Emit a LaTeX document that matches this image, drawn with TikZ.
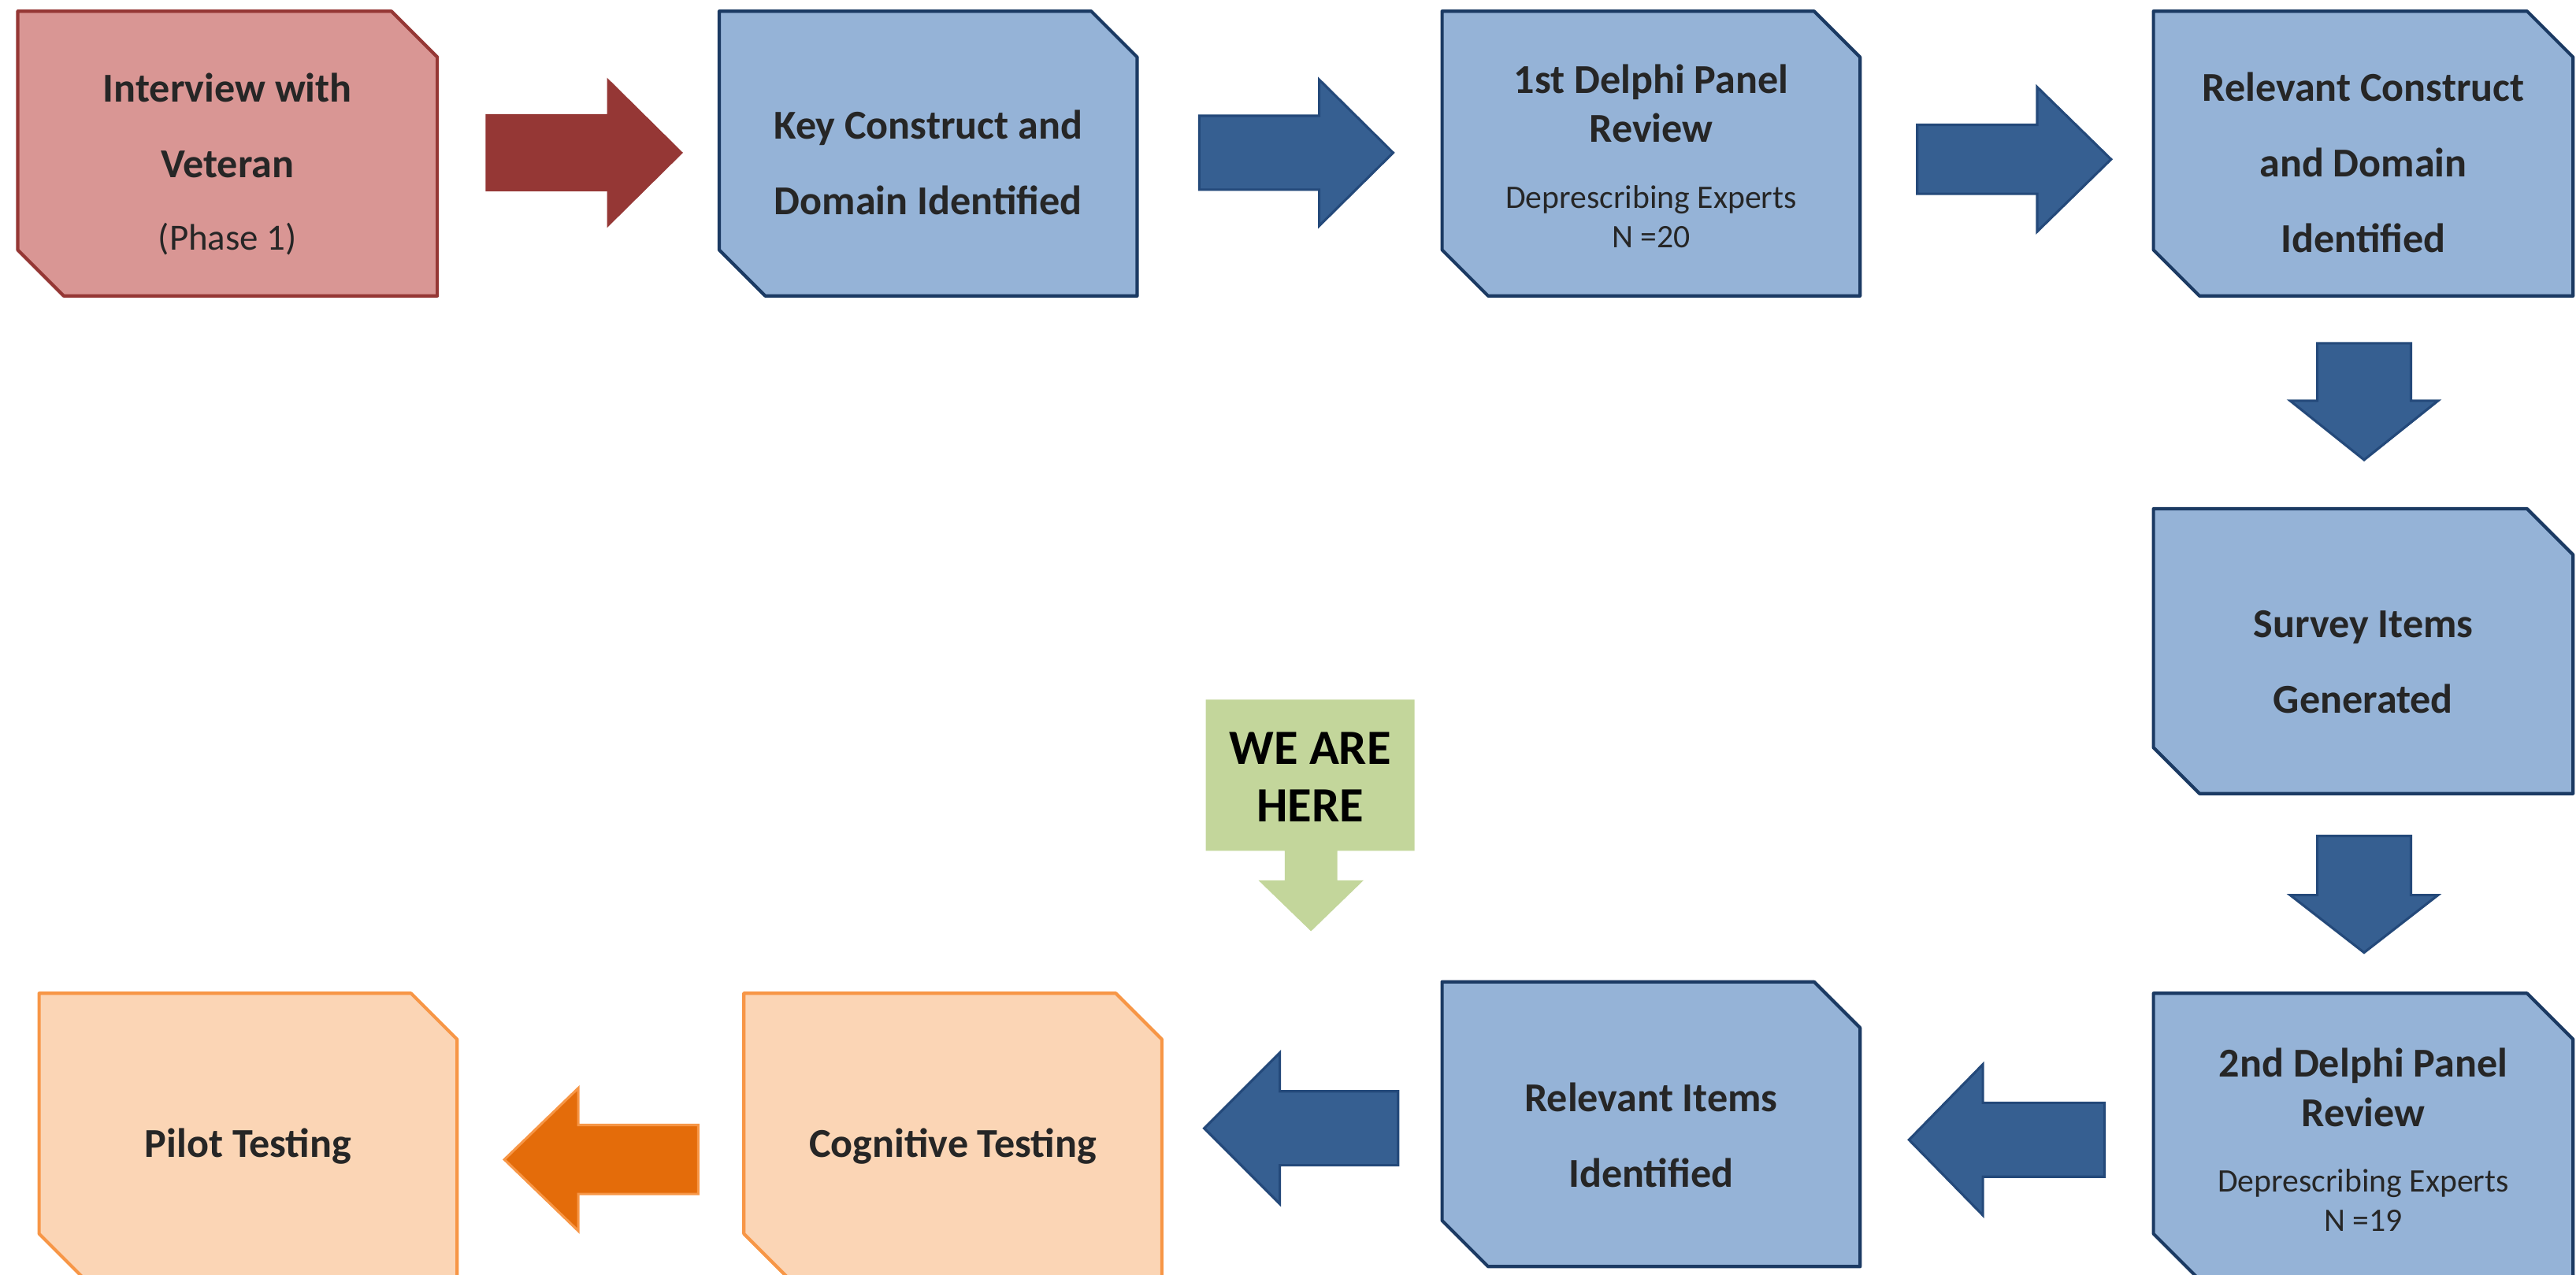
\documentclass[tikz,border=0pt]{standalone}
\usepackage{fontspec}
\setmainfont{Carlito}
\usetikzlibrary{backgrounds}
\definecolor{redfill}{HTML}{D99694}
\definecolor{redline}{HTML}{953735}
\definecolor{redarrow}{HTML}{953735}
\definecolor{bluefill}{HTML}{95B3D7}
\definecolor{blueline}{HTML}{1B3A63}
\definecolor{bluearrow}{HTML}{365F91}
\definecolor{bluearrowline}{HTML}{24497A}
\definecolor{orangefill}{HTML}{FBD5B5}
\definecolor{orangeline}{HTML}{F79646}
\definecolor{orangearrow}{HTML}{E46C0A}
\definecolor{greenfill}{HTML}{C3D69B}
\definecolor{txt}{HTML}{262626}
\newcommand\smalltxt{\mdseries\fontsize{20}{23}\selectfont}
\tikzset{
  boxnode/.style={rectangle, inner sep=0pt, minimum width=#1},
  boxnode/.default=255pt,
  ttl/.style={align=center, text=txt, inner sep=0pt, font=\bfseries\fontsize{25}{30}\selectfont},
  redbox/.style={fill=redfill, draw=redline, line width=2pt, line join=round},
  bluebox/.style={fill=bluefill, draw=blueline, line width=2pt, line join=round},
  orangebox/.style={fill=orangefill, draw=orangeline, line width=2pt, line join=round},
  redarr/.style={fill=redarrow, draw=redarrow, line width=1pt},
  bluearr/.style={fill=bluearrow, draw=bluearrowline, line width=1.5pt},
  orangearr/.style={fill=orangearrow, draw=orangeline, line width=1.5pt},
}
\newcommand\snipshape[2]{%
  \draw[#2] (#1.north west) -- ([xshift=-28pt]#1.north east) -- ([yshift=-28pt]#1.north east)
    -- (#1.south east) -- ([xshift=28pt]#1.south west) -- ([yshift=28pt]#1.south west) -- cycle;}
\newcommand\blockarrow[8]{%
  \coordinate (#2) at #3;
  \draw[#1, shift={(#2)}, rotate=#4] (0,0) -- (-#8,#7/2) -- (-#8,#6/2) -- (-#5,#6/2)
    -- (-#5,-#6/2) -- (-#8,-#6/2) -- (-#8,-#7/2) -- cycle;}
\begin{document}
\begin{tikzpicture}[x=1pt,y=-1pt]
\useasboundingbox (0,0) rectangle (1568,776);
% boxes
\node[boxnode, minimum height=173pt] (b1) at (138.5,93.5) {};
\node[boxnode=254pt, minimum height=173pt] (b2) at (565,93.5) {};
\node[boxnode=254pt, minimum height=173pt] (b3) at (1005,93.5) {};
\node[boxnode, minimum height=173pt] (b4) at (1438.5,93.5) {};
\node[boxnode, minimum height=173pt] (b5) at (1438.5,396.5) {};
\node[boxnode, minimum height=174pt] (b6) at (1438.5,692) {};
\node[boxnode=254pt, minimum height=173pt] (b7) at (1005,684.5) {};
\node[boxnode=254pt, minimum height=174pt] (b8) at (580,692) {};
\node[boxnode=254pt, minimum height=174pt] (b9) at (151,692) {};
\begin{scope}[on background layer]
\snipshape{b1}{redbox}
\snipshape{b2}{bluebox}
\snipshape{b3}{bluebox}
\snipshape{b4}{bluebox}
\snipshape{b5}{bluebox}
\snipshape{b6}{bluebox}
\snipshape{b7}{bluebox}
\snipshape{b8}{orangebox}
\snipshape{b9}{orangebox}
\end{scope}
% texts
\node[ttl] (t1) at (138.5,100) {Interview with\\[16pt]Veteran\\[14pt]\mdseries\fontsize{22.5}{30}\selectfont (Phase 1)};
\node[ttl] (t2) at (565,99) {Key Construct and\\[16pt]Domain Identified};
\node[ttl] (t3) at (1005,95) {1st Delphi Panel\\Review\\[10pt]\smalltxt Deprescribing Experts\\[-6pt]\smalltxt N =20};
\node[ttl] (t4) at (1438.5,99) {Relevant Construct\\[16pt]and Domain\\[16pt]Identified};
\node[ttl] (t5) at (1438.5,403) {Survey Items\\[16pt]Generated};
\node[ttl] (t6) at (1438.5,694) {2nd Delphi Panel\\Review\\[10pt]\smalltxt Deprescribing Experts\\[-6pt]\smalltxt N =19};
\node[ttl] (t7) at (1005,691) {Relevant Items\\[16pt]Identified};
\node[ttl] (t8) at (580,698) {Cognitive Testing};
\node[ttl] (t9) at (151,698) {Pilot Testing};
% block arrows
\blockarrow{redarr}{a1}{(415,93)}{0}{119}{46}{89}{45}
\blockarrow{bluearr}{a2}{(848,93)}{0}{118}{45}{89}{45}
\blockarrow{bluearr}{a3}{(1285,97)}{0}{118}{42}{88}{45}
\blockarrow{bluearr}{a4}{(1439,280)}{-90}{71}{57}{90}{36}
\blockarrow{bluearr}{a5}{(1439,580)}{-90}{71}{57}{90}{35}
\blockarrow{bluearr}{a6}{(1162,694)}{180}{119}{45}{92}{45}
\blockarrow{bluearr}{a7}{(733,687)}{180}{118}{45}{92}{46}
\blockarrow{orangearr}{a8}{(307,706)}{180}{118}{42}{87}{45}
% we are here callout
\fill[greenfill] (734,426) -- (861,426) -- (861,518) -- (814,518) -- (814,536) -- (830,536)
  -- (798,567) -- (766,536) -- (782,536) -- (782,518) -- (734,518) -- cycle;
\node[align=center, inner sep=0pt, font=\bfseries\fontsize{30}{35}\selectfont] (here) at (797.5,473) {WE ARE\\HERE};
\end{tikzpicture}
\end{document}
